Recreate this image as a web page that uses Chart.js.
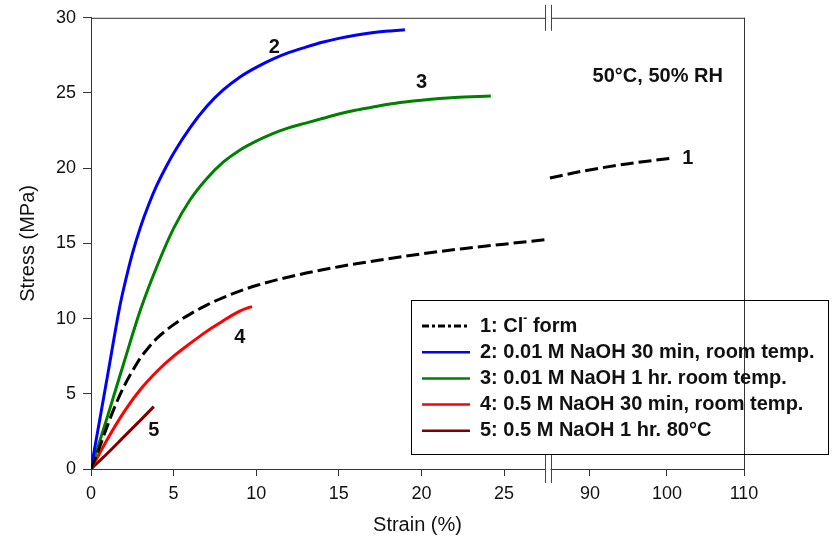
<!DOCTYPE html>
<html>
<head>
<meta charset="utf-8">
<title>Stress-strain curves</title>
<script src="https://cdn.jsdelivr.net/npm/chart.js@4/dist/chart.umd.min.js"></script>
<style>
  html, body { margin: 0; padding: 0; background: #fff; }
  #wrap { width: 833px; height: 547px; }
</style>
</head>
<body>
<div id="wrap"><canvas id="stressChart" width="833" height="547"></canvas></div>
<script>
// Tick labels (the strain axis is broken between 27.5 and 85 %)
const strainTicksLow = [0, 5, 10, 15, 20, 25];
const strainTicksHigh = [90, 100, 110];
const stressTicks = [0, 5, 10, 15, 20, 25, 30];

const seriesNames = [
    '1: Cl\u207B form',
    '2: 0.01 M NaOH 30 min, room temp.',
    '3: 0.01 M NaOH 1 hr. room temp.',
    '4: 0.5 M NaOH 30 min, room temp.',
    '5: 0.5 M NaOH 1 hr. 80\u00B0C'
];

// 1: Cl- form, low strain part and the part past the axis break
const strainCl = [0, 0.5, 1, 1.5, 2, 2.5, 3, 3.5, 4, 5, 6, 7, 8, 10, 12.5, 15, 17.5, 20, 22.5, 25, 27.5];
const stressCl = [0, 1.4, 2.9, 4.3, 5.5, 6.5, 7.4, 8.1, 8.7, 9.6, 10.3, 10.9, 11.4, 12.2, 12.9, 13.45, 13.9, 14.3, 14.65, 14.95, 15.25];
const strainClHigh = [84.8, 89, 95, 100.3];
const stressClHigh = [19.35, 19.8, 20.3, 20.65];

// 2: 0.01 M NaOH 30 min
const strain2 = [0, 1, 1.76, 2, 2.5, 3, 3.5, 4, 4.5, 5, 6, 7, 8, 9, 10, 11, 12, 13, 14, 15, 16, 17, 18, 19];
const stress2 = [0, 6.2, 10.9, 12.1, 14.3, 16.1, 17.6, 18.9, 20.0, 21.0, 22.7, 24.1, 25.2, 26.05, 26.7, 27.25, 27.7, 28.05, 28.37, 28.63, 28.84, 29.0, 29.12, 29.2];

// 3: 0.01 M NaOH 1 hr
const strain3 = [0, 1, 2, 3, 4, 5, 6, 7, 8, 9, 10, 11, 12, 13, 14, 15, 16, 17, 18, 19, 20, 22, 24.2];
const stress3 = [0, 3.5, 7.1, 10.6, 13.5, 16.0, 17.9, 19.3, 20.4, 21.2, 21.8, 22.3, 22.7, 23.0, 23.3, 23.6, 23.85, 24.05, 24.25, 24.4, 24.52, 24.7, 24.8];

// 4: 0.5 M NaOH 30 min
const strain4 = [0, 0.5, 1, 2, 3, 4, 5, 6, 7, 8, 8.5, 9, 9.4, 9.75];
const stress4 = [0, 1.0, 2.0, 3.8, 5.3, 6.5, 7.5, 8.35, 9.15, 9.85, 10.2, 10.5, 10.68, 10.8];

// 5: 0.5 M NaOH 1 hr 80 C
const strain5 = [0, 1, 2, 3, 3.8];
const stress5 = [0, 1.05, 2.15, 3.25, 4.15];

// curve numbers placed in data coordinates
const curveLabels = [
    { text: '2', axis: 'x', x: 11.1, y: 28.0 },
    { text: '3', axis: 'x', x: 20.0, y: 25.7 },
    { text: '1', axis: 'x2', x: 102.7, y: 20.66 },
    { text: '4', axis: 'x', x: 9.0, y: 8.75 },
    { text: '5', axis: 'x', x: 3.8, y: 2.57 }
];

const axisColor = '#333';
const textColor = '#111';
const fontFamily = '"Liberation Sans", Arial, Helvetica, sans-serif';
const colors = ['#000000', '#0000ff', '#008000', '#ff0000', '#800000'];
const clDash = [13, 5];

function pts(xs, ys) {
    return xs.map((x, i) => ({ x: x, y: ys[i] }));
}

function curve(label, xs, ys, color, axis, extra) {
    return Object.assign({
        label: label,
        data: pts(xs, ys),
        xAxisID: axis,
        yAxisID: 'y',
        borderColor: color,
        backgroundColor: color,
        borderWidth: 3,
        pointRadius: 0,
        fill: false,
        cubicInterpolationMode: 'monotone'
    }, extra || {});
}

// draws text and renders the superscript minus as a small raised dash
function drawRich(ctx, text, x, y, size) {
    const parts = text.split('\u207B');
    let cx = x;
    parts.forEach((p, i) => {
        ctx.font = 'bold ' + size + 'px ' + fontFamily;
        ctx.fillText(p, cx, y);
        cx += ctx.measureText(p).width;
        if (i < parts.length - 1) {
            ctx.font = 'bold ' + Math.round(size * 0.6) + 'px ' + fontFamily;
            ctx.fillText('-', cx, y - size * 0.35);
            cx += ctx.measureText('-').width;
        }
    });
}

const decorations = {
    id: 'decorations',
    afterDraw(chart) {
        const ctx = chart.ctx;
        const { left, right, top, bottom } = chart.chartArea;
        const xLow = chart.scales.x;
        const xHigh = chart.scales.x2;
        const yScale = chart.scales.y;
        const bx = Math.round(xLow.right);

        ctx.save();

        // top and right frame lines
        ctx.strokeStyle = axisColor;
        ctx.lineWidth = 1;
        ctx.beginPath();
        ctx.moveTo(left, top + 0.5);
        ctx.lineTo(bx - 3, top + 0.5);
        ctx.moveTo(bx + 3, top + 0.5);
        ctx.lineTo(right + 1, top + 0.5);
        ctx.moveTo(right + 0.5, top);
        ctx.lineTo(right + 0.5, bottom);
        ctx.stroke();

        // axis break
        ctx.fillStyle = '#fff';
        ctx.fillRect(bx - 2.5, bottom - 3, 5, 6);
        ctx.strokeStyle = '#444';
        ctx.beginPath();
        [bx - 2.5, bx + 3.5].forEach(lx => {
            ctx.moveTo(lx, top - 13);
            ctx.lineTo(lx, top + 13);
            ctx.moveTo(lx, bottom - 14);
            ctx.lineTo(lx, bottom + 14);
        });
        ctx.stroke();

        // axis titles
        ctx.fillStyle = textColor;
        ctx.font = '20px ' + fontFamily;
        ctx.textAlign = 'center';
        ctx.textBaseline = 'middle';
        ctx.fillText('Strain (%)', (left + right) / 2, 525);
        ctx.save();
        ctx.translate(28, (top + bottom) / 2);
        ctx.rotate(-Math.PI / 2);
        ctx.fillText('Stress (MPa)', 0, 0);
        ctx.restore();

        // curve numbers
        ctx.font = 'bold 20px ' + fontFamily;
        curveLabels.forEach(l => {
            const sx = chart.scales[l.axis];
            ctx.fillText(l.text, sx.getPixelForValue(l.x), yScale.getPixelForValue(l.y));
        });

        // test condition
        ctx.fillText('50\u00B0C, 50% RH', xHigh.getPixelForValue(98.8), yScale.getPixelForValue(26.1));

        // legend box
        const lx = 411, ly = 300, lw = 417, lh = 154;
        ctx.strokeStyle = '#000';
        ctx.lineWidth = 1;
        ctx.strokeRect(lx + 0.5, ly + 0.5, lw, lh);
        ctx.textAlign = 'left';
        seriesNames.forEach((name, i) => {
            const ry = 326 + i * 26.2;
            ctx.beginPath();
            ctx.strokeStyle = colors[i];
            ctx.lineWidth = i === 0 ? 3 : 2.5;
            ctx.setLineDash(i === 0 ? [7, 3, 3, 3] : []);
            ctx.moveTo(422, ry);
            ctx.lineTo(470, ry);
            ctx.stroke();
            ctx.setLineDash([]);
            ctx.fillStyle = textColor;
            drawRich(ctx, name, 480, ry, 20);
        });

        ctx.restore();
    }
};

const tickFont = { family: fontFamily, size: 18 };

const chart = new Chart(document.getElementById('stressChart').getContext('2d'), {
    type: 'line',
    data: {
        datasets: [
            curve(seriesNames[0], strainCl, stressCl, colors[0], 'x', { borderDash: clDash }),
            curve(seriesNames[0], strainClHigh, stressClHigh, colors[0], 'x2', { borderDash: clDash }),
            curve(seriesNames[1], strain2, stress2, colors[1], 'x'),
            curve(seriesNames[2], strain3, stress3, colors[2], 'x'),
            curve(seriesNames[3], strain4, stress4, colors[3], 'x'),
            curve(seriesNames[4], strain5, stress5, colors[4], 'x')
        ]
    },
    options: {
        responsive: false,
        animation: false,
        layout: { padding: { top: 13, right: 89, left: 0, bottom: 0 } },
        plugins: {
            legend: { display: false },
            tooltip: { enabled: false }
        },
        scales: {
            x: {
                type: 'linear',
                position: 'bottom',
                stack: 'strain',
                stackWeight: 457,
                min: 0,
                max: 27.66,
                grid: { display: true, drawOnChartArea: false, tickLength: 7, color: axisColor },
                border: { display: true, color: axisColor },
                ticks: { font: tickFont, color: textColor, padding: 7, maxRotation: 0 },
                afterBuildTicks: s => { s.ticks = strainTicksLow.map(v => ({ value: v })); },
                afterFit: s => { s.height = 78; }
            },
            x2: {
                type: 'linear',
                position: 'bottom',
                stack: 'strain',
                stackWeight: 196,
                min: 84.55,
                max: 110,
                grid: { display: true, drawOnChartArea: false, tickLength: 7, color: axisColor },
                border: { display: true, color: axisColor },
                ticks: { font: tickFont, color: textColor, padding: 7, maxRotation: 0 },
                afterBuildTicks: s => { s.ticks = strainTicksHigh.map(v => ({ value: v })); },
                afterFit: s => { s.height = 78; }
            },
            y: {
                type: 'linear',
                position: 'left',
                min: 0,
                max: 30,
                grid: { display: true, drawOnChartArea: false, tickLength: 8, color: axisColor },
                border: { display: true, color: axisColor },
                ticks: { font: tickFont, color: textColor, padding: 7 },
                afterBuildTicks: s => { s.ticks = stressTicks.map(v => ({ value: v })); },
                afterFit: s => { s.width = 91; }
            }
        }
    },
    plugins: [decorations]
});
</script>
</body>
</html>
